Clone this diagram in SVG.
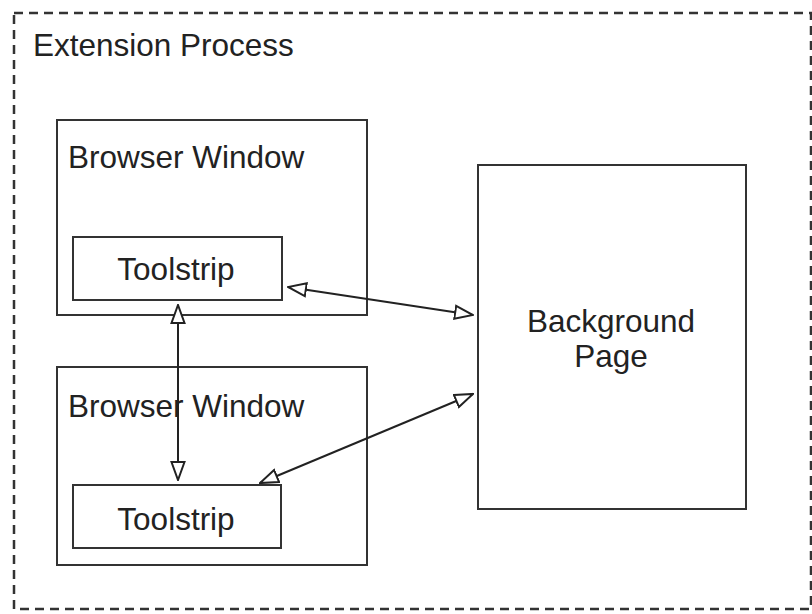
<svg xmlns="http://www.w3.org/2000/svg" width="812" height="614" viewBox="0 0 812 614">
<style>
.box{fill:#fff;stroke:#333;stroke-width:2}
.t{font-family:"Liberation Sans",Arial,sans-serif;font-size:31.5px;fill:#222}
.c{stroke:#222;stroke-width:2;fill:none}
</style>
<defs>
<marker id="ah" viewBox="0 0 20 16" refX="19" refY="8" markerWidth="20" markerHeight="16" markerUnits="userSpaceOnUse" orient="auto-start-reverse">
<path d="M1,1.5 L19,8 L1,14.5 Z" fill="#fff" stroke="#222" stroke-width="2"/>
</marker>
</defs>
<rect width="812" height="614" fill="#fff"/>
<g id="extension-process">
<rect x="14" y="13" width="797" height="596" fill="none" stroke="#333" stroke-width="2.5" stroke-dasharray="9,6"/>
<text class="t" x="33" y="56">Extension Process</text>
</g>
<g id="browser-window-1">
<rect class="box" x="57" y="120" width="310" height="195"/>
<text class="t" x="68" y="168">Browser Window</text>
</g>
<g id="toolstrip-1">
<rect class="box" x="73" y="237" width="209" height="63"/>
<text class="t" x="176" y="280" text-anchor="middle">Toolstrip</text>
</g>
<g id="browser-window-2">
<rect class="box" x="57" y="367" width="310" height="198"/>
<text class="t" x="68" y="417">Browser Window</text>
</g>
<g id="toolstrip-2">
<rect class="box" x="73" y="485" width="208" height="63"/>
<text class="t" x="176" y="530" text-anchor="middle">Toolstrip</text>
</g>
<g id="background-page">
<rect class="box" x="478" y="165" width="268" height="344"/>
<text class="t" x="611" y="332" text-anchor="middle">Background</text>
<text class="t" x="611" y="367" text-anchor="middle">Page</text>
</g>
<g id="connectors">
<line class="c" x1="288" y1="287" x2="473" y2="315" marker-start="url(#ah)" marker-end="url(#ah)"/>
<line class="c" x1="178" y1="305" x2="178" y2="480" marker-start="url(#ah)" marker-end="url(#ah)"/>
<line class="c" x1="473" y1="394" x2="260" y2="483" marker-start="url(#ah)" marker-end="url(#ah)"/>
</g>
</svg>
